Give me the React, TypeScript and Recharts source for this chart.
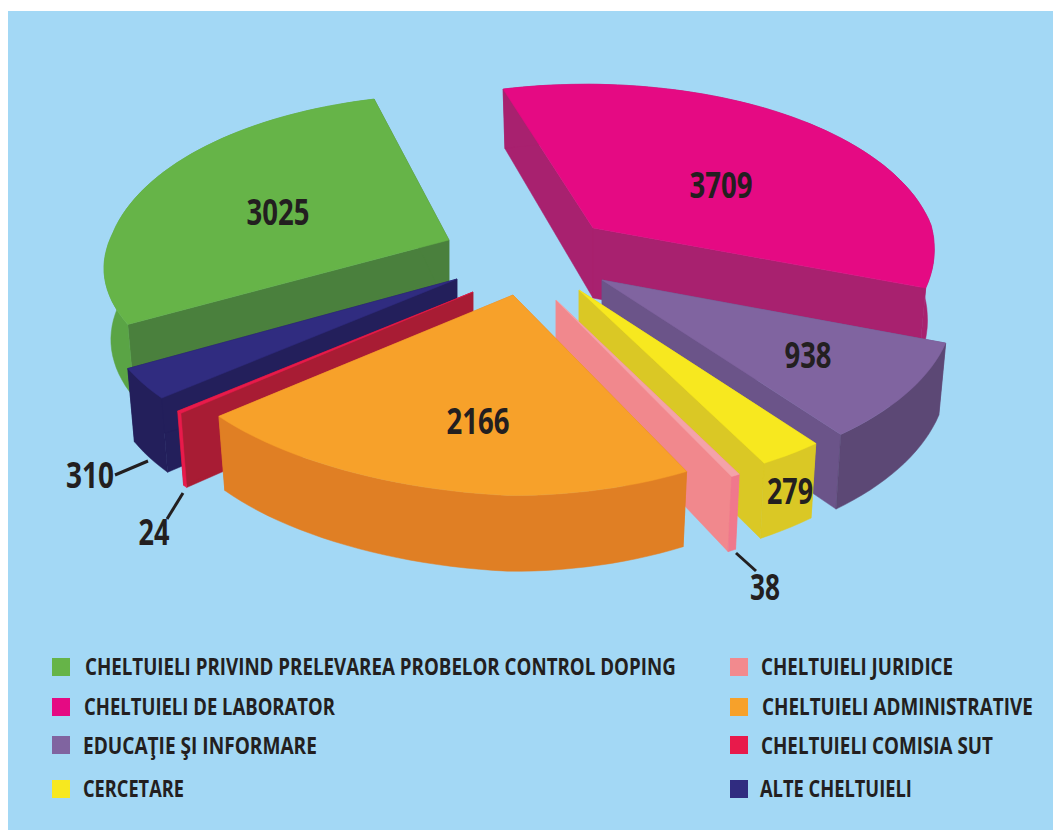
import { PieChart, Pie, Legend } from 'recharts'

const NAMES = [
  'CHELTUIELI PRIVIND PRELEVAREA PROBELOR CONTROL DOPING',
  'CHELTUIELI DE LABORATOR',
  'EDUCAŢIE ŞI INFORMARE',
  'CERCETARE',
  'CHELTUIELI JURIDICE',
  'CHELTUIELI ADMINISTRATIVE',
  'CHELTUIELI COMISIA SUT',
  'ALTE CHELTUIELI',
]
const VALUES = [3025, 3709, 938, 279, 38, 2166, 24, 310]

const TOP_COLORS = ['#66B448', '#E50A83', '#8064A0', '#F7E81F', '#F4A3A9', '#F7A12A', '#E81A4B', '#302C80']
const WALL_COLORS = ['#4A803D', '#A8216F', '#6B5489', '#DAC825', '#F1888D', '#E07F24', '#A81C34', '#231F5B']
const RIM_COLORS = ['#5AA445', '#A8216F', '#5C4875', '#DAC825', '#F0788C', '#E07F24', '#E81A4B', '#231F5B']
const LEGEND_COLORS = ['#66B448', '#E50A83', '#8064A0', '#F7E81F', '#F28A8E', '#F7A12A', '#E81A4B', '#302C80']

// Slice displacement from the pie centre (exploded look)
const EXPLODE = [[-71, -30], [73, -42], [82, 10], [59, 20], [36, 30], [-7, 25], [-47, 22], [-63, 9]]
// Small nudges of each slice's arc relative to its tip
const RIM_SHIFT = [[8, -5], [-7, -3], [4, 0], [2, -1], [0, 0], [-2, 0], [0, 0], [0, 0]]

// Label placement: centre x, baseline y, text width
const LABEL_POS = [[278, 225, 63], [721, 198, 63], [808, 368, 47], [790, 504, 46], [765, 600, 30], [478, 434, 63], [154, 545, 31], [90, 488, 48]]
const LEADERS: Record<number, number[]> = { 4: [736, 553, 756, 571], 6: [167, 519, 183, 493], 7: [115, 475, 148, 461] }

// Legend placement: marker x, marker y, text x, baseline y, text width
const LEGEND_POS = [
  [52, 658, 85, 675, 591], [52, 698, 84, 715, 251], [52, 736, 83, 754, 234], [52, 780, 83, 797, 101],
  [730, 658, 761, 675, 192], [730, 698, 762, 715, 271], [730, 736, 761, 754, 232], [730, 780, 760, 797, 152],
]

// Draw order differs from legend order so nearer slices cover farther ones
const LAYERS = [[0, 1, 2, 3, 4, 7], [6], [5]]

const data = NAMES.map((name, i) => ({ name, value: VALUES[i], fill: TOP_COLORS[i] }))

const RATIO = 0.51
const DEPTH = 70
const INK = '#231F20'
const FONT = '"Open Sans", sans-serif'

const persp = (yf: number) => (yf >= 0 ? 1 + 0.14 * yf : 1 + 0.2 * yf)

// The original's camera sits off to one side: the front left quarter is pulled out
const warp = (ux: number, yf: number) => (ux < 0 && yf > 0 ? -2 * ux * yf : 0)

const measure = document.createElement('canvas').getContext('2d')

// Condensed look: real text squeezed horizontally to the width it has in the picture
function NarrowText({ x, y, width, size, children }: any) {
  measure!.font = `700 ${size}px ${FONT}`
  const sx = width / measure!.measureText(String(children)).width
  return (
    <text transform={`translate(${x},${y}) scale(${sx.toFixed(4)},1)`} fontFamily={FONT} fontWeight={700} fontSize={size} fill={INK}>
      {children}
    </text>
  )
}

function makeSlice(layer: number[]) {
  return function Slice(props: any) {
    const { cx, cy, outerRadius, startAngle, endAngle } = props
    const i = NAMES.indexOf(props.name ?? props.payload?.name)
    if (!layer.includes(i)) return <g />
    const ox = cx + EXPLODE[i][0]
    const oy = cy + EXPLODE[i][1]

    const top = (deg: number) => {
      const a = (deg * Math.PI) / 180
      const ux = Math.cos(a)
      const yf = -Math.sin(a)
      const p = persp(yf)
      const t = warp(ux, yf)
      return [ux * outerRadius * p + RIM_SHIFT[i][0] - 14 * t, yf * outerRadius * RATIO * p + RIM_SHIFT[i][1] - 9 * t, p]
    }
    const topPt = (deg: number) => {
      const [x, y] = top(deg)
      return [ox + x, oy + y]
    }
    const botPt = (deg: number) => {
      const [x, y, p] = top(deg)
      return [ox + x * 0.98, oy + y * 0.98 + DEPTH * p]
    }

    const steps = Math.max(2, Math.ceil(Math.abs(endAngle - startAngle) / 2))
    const angles = Array.from({ length: steps + 1 }, (_, k) => startAngle + ((endAngle - startAngle) * k) / steps)
    const path = (pts: number[][]) => 'M' + pts.map((q) => q[0].toFixed(1) + ',' + q[1].toFixed(1)).join('L') + 'Z'

    const apexTop = [ox, oy]
    const apexBot = [ox, oy + DEPTH]
    const wall = (deg: number) => path([apexTop, topPt(deg), botPt(deg), apexBot])
    const rim = path([...angles.map(topPt), ...angles.slice().reverse().map(botPt)])
    const face = path([apexTop, ...angles.map(topPt)])

    return (
      <g>
        <path d={wall(startAngle)} fill={WALL_COLORS[i]} stroke={WALL_COLORS[i]} strokeWidth={0.5} />
        <path d={wall(endAngle)} fill={WALL_COLORS[i]} stroke={WALL_COLORS[i]} strokeWidth={0.5} />
        <path d={rim} fill={RIM_COLORS[i]} stroke={RIM_COLORS[i]} strokeWidth={0.5} />
        <path d={face} fill={TOP_COLORS[i]} stroke={TOP_COLORS[i]} strokeWidth={0.5} />
      </g>
    )
  }
}

function SliceLabel(props: any) {
  const i = NAMES.indexOf(props.name ?? props.payload?.name)
  const [x, y, w] = LABEL_POS[i]
  const line = LEADERS[i]
  return (
    <g>
      {line && <line x1={line[0]} y1={line[1]} x2={line[2]} y2={line[3]} stroke={INK} strokeWidth={3} />}
      <NarrowText x={x - w / 2} y={y} width={w} size={36}>
        {VALUES[i]}
      </NarrowText>
    </g>
  )
}

function LegendBlock() {
  return (
    <svg width={1053} height={830} style={{ display: 'block' }}>
      {NAMES.map((name, i) => {
        const [mx, my, tx, ty, w] = LEGEND_POS[i]
        return (
          <g key={name}>
            <rect x={mx} y={my} width={18} height={18} fill={LEGEND_COLORS[i]} />
            <NarrowText x={tx} y={ty} width={w} size={23}>
              {name}
            </NarrowText>
          </g>
        )
      })}
    </svg>
  )
}

export default function App() {
  return (
    <div style={{ position: 'absolute', left: 0, top: 0, width: 1053, height: 830, background: '#fff', overflow: 'hidden' }}>
      <div style={{ position: 'absolute', left: 8, top: 11, width: 1045, height: 819, background: '#A3D8F5' }} />
      <PieChart width={1053} height={830} margin={{ top: 0, right: 0, bottom: 0, left: 0 }}>
        {LAYERS.map((layer, n) => (
          <Pie
            key={n}
            data={data}
            dataKey="value"
            nameKey="name"
            cx={520}
            cy={270}
            innerRadius={0}
            outerRadius={345}
            startAngle={-148.9}
            endAngle={-508.9}
            stroke="none"
            shape={makeSlice(layer)}
            label={n === LAYERS.length - 1 ? SliceLabel : false}
            labelLine={false}
            legendType={n === 0 ? 'square' : 'none'}
            isAnimationActive={false}
          />
        ))}
        <Legend content={LegendBlock} wrapperStyle={{ left: 0, top: 0, width: 1053, height: 830 }} />
      </PieChart>
    </div>
  )
}
